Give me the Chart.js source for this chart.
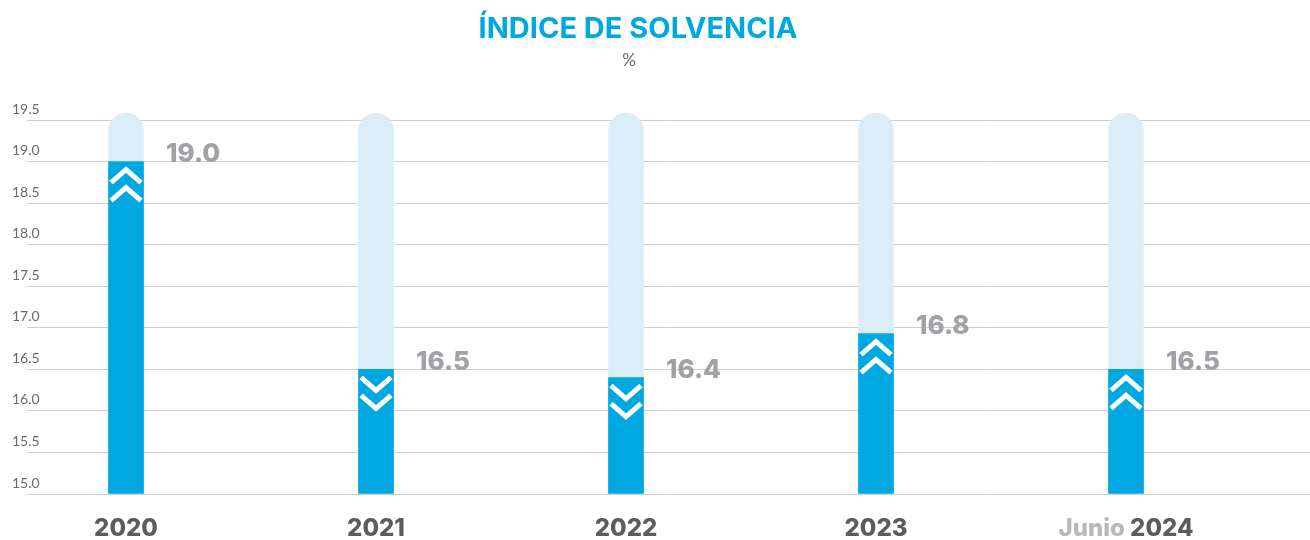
<!DOCTYPE html>
<html>
<head>
<meta charset="utf-8">
<script src="https://cdn.jsdelivr.net/npm/chart.js@4/dist/chart.umd.min.js"></script>
<style>
  html, body { margin: 0; padding: 0; background: #fff; }
</style>
</head>
<body>
<canvas id="c" width="1310" height="540"></canvas>
<script>
// data
var years = ['2020', '2021', '2022', '2023', '2024'];
var yearPrefix = ['', '', '', '', 'Junio'];
var ratios = [19.0, 16.5, 16.4, 16.93, 16.5];
var ratioLabels = ['19.0', '16.5', '16.4', '16.8', '16.5'];
var trends = ['up', 'down', 'down', 'up', 'up'];
var yMin = 15.0, yMax = 19.5, yStep = 0.5;
var trackTop = 19.58;

var blue = '#00a8e1',
    track = '#dbeef8',
    grey = '#a2a2a6',
    dark = '#5c5c5e';

function points(vals) {
  return vals.map(function(v, i) { return { x: i, y: v }; });
}

var decor = {
  id: 'decor',
  afterDatasetsDraw: function(chart) {
    var ctx = chart.ctx,
        xs = chart.scales.x,
        ys = chart.scales.y;
    ctx.save();

    // title + unit
    ctx.textAlign = 'center';
    ctx.textBaseline = 'middle';
    ctx.fillStyle = blue;
    ctx.font = 'bold 29px Inter, "DejaVu Sans", sans-serif';
    ctx.fillText('ÍNDICE DE SOLVENCIA', 638, 29);
    ctx.fillStyle = '#6a6a6c';
    ctx.font = '17px Lato, "Open Sans", sans-serif';
    ctx.fillText('%', 629, 61);

    years.forEach(function(yr, i) {
      var cx = xs.getPixelForValue(i),
          top = ys.getPixelForValue(ratios[i]);

      // chevrons
      ctx.strokeStyle = '#fff';
      ctx.lineWidth = 5;
      ctx.lineJoin = 'miter';
      var hw = 15, h = 13;
      for (var k = 0; k < 2; k++) {
        var y0 = top + 8 + k * 18;
        ctx.beginPath();
        if (trends[i] === 'up') {
          ctx.moveTo(cx - hw, y0 + h);
          ctx.lineTo(cx, y0);
          ctx.lineTo(cx + hw, y0 + h);
        } else {
          ctx.moveTo(cx - hw, y0);
          ctx.lineTo(cx, y0 + h);
          ctx.lineTo(cx + hw, y0);
        }
        ctx.stroke();
      }

      // value label
      ctx.textAlign = 'left';
      ctx.textBaseline = 'middle';
      ctx.fillStyle = grey;
      ctx.font = '800 26px Inter, "DejaVu Sans", sans-serif';
      ctx.fillText(ratioLabels[i], cx + 17 + 23, top - 7);

      // category label
      ctx.font = '800 24px Inter, "DejaVu Sans", sans-serif';
      var pre = yearPrefix[i] ? yearPrefix[i] + ' ' : '';
      var wPre = ctx.measureText(pre).width,
          wYr = ctx.measureText(yr).width,
          x0 = cx - (wPre + wYr) / 2;
      if (pre) {
        ctx.fillStyle = '#b8b8bb';
        ctx.fillText(pre, x0, 529);
      }
      ctx.fillStyle = dark;
      ctx.fillText(yr, x0 + wPre, 529);
    });

    ctx.restore();
  }
};

new Chart(document.getElementById('c'), {
  type: 'bar',
  data: {
    datasets: [{
      label: 'Índice de solvencia',
      data: points(ratios),
      backgroundColor: blue,
      base: yMin,
      barThickness: 35,
      grouped: false
    }, {
      label: 'track',
      data: points(ratios.map(function() { return trackTop; })),
      backgroundColor: track,
      base: yMin,
      barThickness: 35,
      grouped: false,
      borderRadius: { topLeft: 18, topRight: 18 },
      borderSkipped: 'bottom',
      clip: false
    }]
  },
  options: {
    responsive: false,
    animation: false,
    devicePixelRatio: 1,
    layout: { padding: { top: 120, left: 0, right: 0, bottom: 46 } },
    plugins: {
      legend: { display: false },
      tooltip: { enabled: false }
    },
    scales: {
      x: {
        type: 'linear',
        display: false,
        offset: false,
        min: -0.396,
        max: 4.736,
        grid: { display: false }
      },
      y: {
        min: yMin,
        max: yMax,
        grid: { color: '#cfcfd3', lineWidth: 1, drawTicks: false },
        border: { display: false },
        afterFit: function(scale) { scale.width = 27; },
        ticks: {
          stepSize: yStep,
          mirror: true,
          crossAlign: 'near',
          padding: -15,
          labelOffset: -11,
          color: '#6a6a6c',
          font: { family: 'Lato, "Open Sans", sans-serif', size: 14 },
          callback: function(v) { return v.toFixed(1); }
        }
      }
    }
  },
  plugins: [decor]
});
</script>
</body>
</html>
